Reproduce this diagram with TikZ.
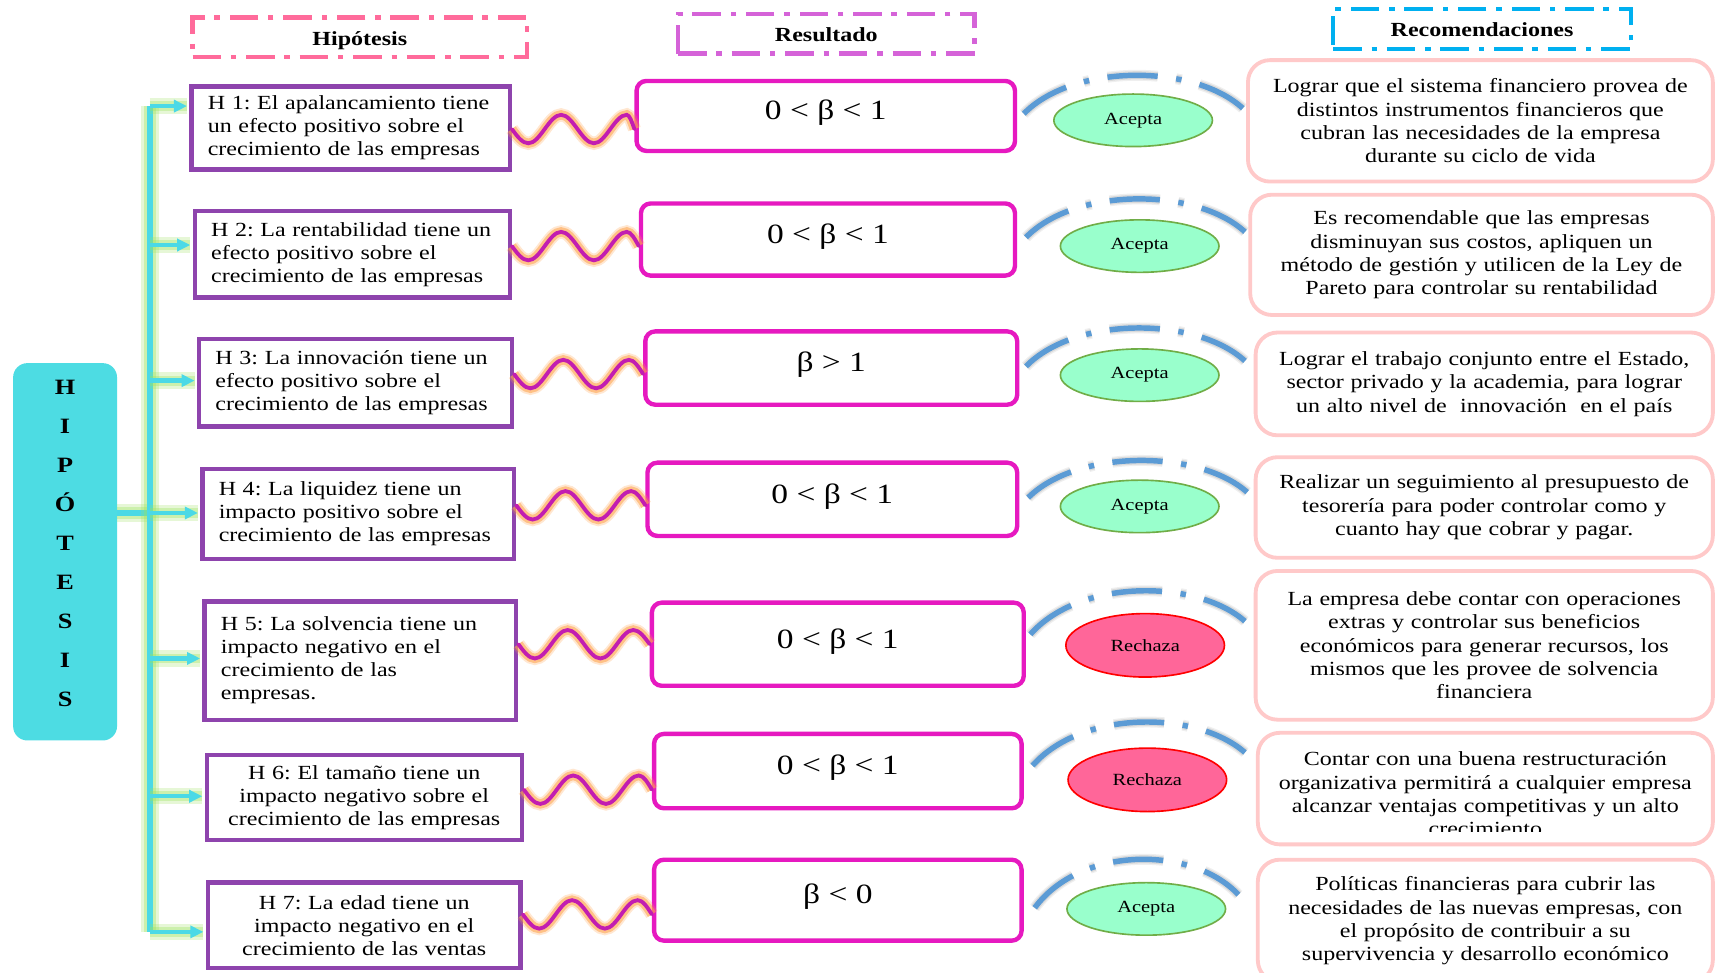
\documentclass[tikz,border=0pt]{standalone}
\usepackage{fontspec}
\setmainfont{Liberation Serif}[FakeStretch=1.2]
\usetikzlibrary{shapes.geometric,arrows.meta,calc}
\frenchspacing

\definecolor{hypPurple}{HTML}{8E44AD}
\definecolor{resMag}{HTML}{E619C0}
\definecolor{recPink}{HTML}{FFC9C9}
\definecolor{waveMag}{HTML}{C21DB1}
\definecolor{waveGlow}{HTML}{FFA24A}
\definecolor{spineCyan}{HTML}{4BD9E6}
\definecolor{spineGlow}{HTML}{9DE35F}
\definecolor{arcBlue}{HTML}{5B9BD5}
\definecolor{acFill}{HTML}{99FFCC}
\definecolor{acLine}{HTML}{70AD47}
\definecolor{reFill}{HTML}{FF6699}
\definecolor{reLine}{HTML}{FF0000}
\definecolor{hdrPink}{HTML}{FF6B9B}
\definecolor{hdrOrchid}{HTML}{D563D8}
\definecolor{hdrCyan}{HTML}{00B0F0}
\definecolor{hipFill}{HTML}{4DDCE3}

\tikzset{
  bodyfont/.style={font=\fontsize{18.3}{21}\selectfont},
  hdr/.style={line width=4pt, dash pattern=on 26pt off 9pt on 5pt off 9pt,
    inner sep=0pt, text height=18.4pt, text depth=4pt,
    font=\bfseries\fontsize{18.3}{21}\selectfont},
  hipbox/.style={fill=hipFill, rounded corners=13pt, minimum width=95pt,
    minimum height=345pt, inner sep=0pt},
  hipletters/.style={align=center, inner sep=0pt,
    font=\bfseries\fontsize{20}{35.7}\selectfont},
  hyp/.style={draw=hypPurple, line width=4pt, fill=white, inner xsep=15pt,
    inner ysep=0pt, align=left, bodyfont},
  hypc/.style={hyp, align=center},
  res/.style={draw=resMag, line width=4pt, rounded corners=9pt, fill=white,
    inner sep=0pt, text height=18pt, text depth=11pt,
    font=\fontsize{25.5}{30}\selectfont},
  rec/.style={draw=recPink, line width=3.5pt, rounded corners=20pt, fill=white,
    align=center, inner sep=0pt, font=\fontsize{18.3}{21.3}\selectfont},
  rectext/.style={align=center, inner sep=0pt, font=\fontsize{18.3}{21.3}\selectfont},
  ell/.style={ellipse, line width=1.5pt, inner sep=0pt, minimum width=145pt,
    font=\fontsize{15.6}{18}\selectfont},
  acepta/.style={ell, fill=acFill, draw=acLine, minimum height=48pt},
  rechaza/.style={ell, fill=reFill, draw=reLine, minimum height=58pt},
  spine/.style={draw=spineCyan, line width=5.5pt,
    preaction={draw=spineGlow, line width=17pt, opacity=0.25},
    preaction={draw=spineGlow, line width=11pt, opacity=0.35}},
  branch/.style={draw=spineCyan, line width=4pt,
    -{Triangle[length=12pt,width=11pt]}, shorten >=2pt,
    preaction={draw=spineGlow, arrows=-, line width=15pt, opacity=0.25},
    preaction={draw=spineGlow, arrows=-, line width=9pt, opacity=0.35}},
  wave/.style={draw=waveMag, line width=3.5pt, line cap=round,
    preaction={draw=waveGlow, line width=12pt, opacity=0.25},
    preaction={draw=waveGlow, line width=8.5pt, opacity=0.55}},
  arcdash/.style={dash pattern=on 46pt off 17pt on 5pt off 17pt},
  arcline/.style={draw=arcBlue, line width=5pt, arcdash,
    preaction={draw=gray, arcdash, line width=10pt, opacity=0.12},
    preaction={draw=gray, arcdash, line width=7.5pt, opacity=0.18}},
}

\begin{document}
\begin{tikzpicture}[x=1pt,y=-1pt]
\clip (0,0) rectangle (1568,889);
\fill[white] (0,0) rectangle (1568,889);

% column headings
\node[hdr, draw=hdrPink, minimum width=306pt, minimum height=36pt] (hh) at (329,34) {Hipótesis};
\node[hdr, draw=hdrOrchid, minimum width=271pt, minimum height=36pt] (hr) at (755.5,31) {Resultado};
\node[hdr, draw=hdrCyan, minimum width=272pt, minimum height=37pt] (hc) at (1355,26.5) {Recomendaciones};

% vertical title box
\node[hipbox] (hip) at (59.5,504.5) {};
\node[hipletters] (hipt) at (59.5,497) {H\\I\\P\\Ó\\T\\E\\S\\I\\S};

% hypotheses
\node[hyp, minimum width=291pt, minimum height=76pt, text width=261pt] (h1) at (320.5,117)
  {H 1: El apalancamiento tiene\\un efecto positivo sobre el\\crecimiento de las empresas};
\node[hyp, minimum width=288pt, minimum height=79pt, text width=258pt] (h2) at (322,232.5)
  {H 2: La rentabilidad tiene un\\efecto positivo sobre el\\crecimiento de las empresas};
\node[hyp, minimum width=286pt, minimum height=80pt, text width=256pt] (h3) at (325,350)
  {H 3: La innovación tiene un\\efecto positivo sobre el\\crecimiento de las empresas};
\node[hyp, minimum width=285pt, minimum height=82pt, text width=255pt] (h4) at (327.5,470)
  {H 4: La liquidez tiene un\\impacto positivo sobre el\\crecimiento de las empresas};
\node[hyp, minimum width=285pt, minimum height=108pt, text width=255pt] (h5) at (329.5,604)
  {H 5: La solvencia tiene un\\impacto negativo en el\\crecimiento de las\\empresas.};
\node[hypc, minimum width=288pt, minimum height=78pt, text width=258pt] (h6) at (333,729)
  {H 6: El tamaño tiene un\\impacto negativo sobre el\\crecimiento de las empresas};
\node[hypc, minimum width=286pt, minimum height=78pt, text width=256pt] (h7) at (333,846)
  {H 7: La edad tiene un\\impacto negativo en el\\crecimiento de las ventas};

% results
\node[res, minimum width=346pt, minimum height=64pt] (r1) at (755,106) {0 < β < 1};
\node[res, minimum width=342pt, minimum height=66pt] (r2) at (757,219) {0 < β < 1};
\node[res, minimum width=340pt, minimum height=67pt] (r3) at (760,336.5) {β > 1};
\node[res, minimum width=338pt, minimum height=67pt] (r4) at (761,456.5) {0 < β < 1};
\node[res, minimum width=340pt, minimum height=76pt] (r5) at (766,589) {0 < β < 1};
\node[res, minimum width=336pt, minimum height=68pt] (r6) at (766,705) {0 < β < 1};
\node[res, minimum width=336pt, minimum height=74pt] (r7) at (766,823) {β < 0};

% decisions
\node[acepta] (e1) at (1036,110) {Acepta};
\node[acepta] (e2) at (1042,225) {Acepta};
\node[acepta] (e3) at (1042,343) {Acepta};
\node[acepta] (e4) at (1042,463) {Acepta};
\node[rechaza] (e5) at (1047,590) {Rechaza};
\node[rechaza] (e6) at (1049,713) {Rechaza};
\node[acepta] (e7) at (1048,831) {Acepta};

% recommendations
\node[rec, minimum width=425pt, minimum height=111pt, text width=415pt] (rc1) at (1353.5,110.5)
  {Lograr que el sistema financiero provea de\\distintos instrumentos financieros que\\cubran las necesidades de la empresa\\durante su ciclo de vida};
\node[rec, minimum width=423pt, minimum height=110pt, text width=413pt] (rc2) at (1354.5,233)
  {Es recomendable que las empresas\\disminuyan sus costos, apliquen un\\método de gestión y utilicen de la Ley de\\Pareto para controlar su rentabilidad};
\node[rec, minimum width=418pt, minimum height=94pt, text width=408pt] (rc3) at (1357,351)
  {Lograr el trabajo conjunto entre el Estado,\\sector privado y la academia, para lograr\\un alto nivel de\ \ innovación\ \ en el país};
\node[rec, minimum width=418pt, minimum height=92pt, text width=408pt] (rc4) at (1357,464)
  {Realizar un seguimiento al presupuesto de\\tesorería para poder controlar como y\\cuanto hay que cobrar y pagar.};
\node[rec, minimum width=418pt, minimum height=136pt, text width=408pt] (rc5) at (1357,590)
  {La empresa debe contar con operaciones\\extras y controlar sus beneficios\\económicos para generar recursos, los\\mismos que les provee de solvencia\\financiera};
\node[rec, minimum width=416pt, minimum height=102pt] (rc6) at (1358,721) {};
\begin{scope}
  \clip (rc6.north west) rectangle (rc6.east |- 0,760);
  \node[rectext, text width=406pt] (rc6t) at ($(rc6.center)+(0,5)$)
    {Contar con una buena restructuración\\organizativa permitirá a cualquier empresa\\alcanzar ventajas competitivas y un alto\\crecimiento};
\end{scope}
\node[rec, minimum width=416pt, minimum height=112pt, text width=406pt] (rc7) at (1358,842)
  {Políticas financieras para cubrir las\\necesidades de las nuevas empresas, con\\el propósito de contribuir a su\\supervivencia y desarrollo económico};

% branching spine
\coordinate (s1) at (137,97);
\coordinate (s2) at (137,224);
\coordinate (s3) at (137,348);
\coordinate (s4) at (137,469);
\coordinate (s5) at (137,602);
\coordinate (s6) at (137,728);
\coordinate (s7) at (137,852);
\draw[spine] (hip.east |- s4) -- (s4);
\draw[spine] (s1) -- (s7);
\draw[branch] (s1) -- (s1 -| h1.west);
\draw[branch] (s2) -- (s2 -| h2.west);
\draw[branch] (s3) -- (s3 -| h3.west);
\draw[branch] (s4) -- (s4 -| h4.west);
\draw[branch] (s5) -- (s5 -| h5.west);
\draw[branch] (s6) -- (s6 -| h6.west);
\draw[branch] (s7) -- (s7 -| h7.west);

% wavy links hypothesis -> result
\draw[wave] (h1.east |- 0,118) sin ++(15,13) cos ++(15,-13) sin ++(15,-13) cos ++(15,13)
  sin ++(15,13) cos ++(15,-13) sin ++(15,-13) cos (r1.west |- 0,118);
\draw[wave] (h2.east |- 0,225) sin ++(15,13) cos ++(15,-13) sin ++(15,-13) cos ++(15,13)
  sin ++(15,13) cos ++(15,-13) sin ++(15,-13) cos (r2.west |- 0,225);
\draw[wave] (h3.east |- 0,342) sin ++(15,13) cos ++(15,-13) sin ++(15,-13) cos ++(15,13)
  sin ++(15,13) cos ++(15,-13) sin ++(15,-13) cos (r3.west |- 0,342);
\draw[wave] (h4.east |- 0,462) sin ++(15,13) cos ++(15,-13) sin ++(15,-13) cos ++(15,13)
  sin ++(15,13) cos ++(15,-13) sin ++(15,-13) cos (r4.west |- 0,462);
\draw[wave] (h5.east |- 0,589) sin ++(15,13) cos ++(15,-13) sin ++(15,-13) cos ++(15,13)
  sin ++(15,13) cos ++(15,-13) sin ++(15,-13) cos (r5.west |- 0,589);
\draw[wave] (h6.east |- 0,722) sin ++(15,13) cos ++(15,-13) sin ++(15,-13) cos ++(15,13)
  sin ++(15,13) cos ++(15,-13) sin ++(15,-13) cos (r6.west |- 0,722);
\draw[wave] (h7.east |- 0,836) sin ++(15,13) cos ++(15,-13) sin ++(15,-13) cos ++(15,13)
  sin ++(15,13) cos ++(15,-13) sin ++(15,-13) cos (r7.west |- 0,836);

% dash-dot arcs result -> recommendation
\draw[arcline] ($(r1.east)+(6,-2)$) .. controls +(45,-46) and +(-45,-41) .. ($(rc1.west)+(-3,-11.5)$);
\draw[arcline] ($(r2.east)+(8,-2)$) .. controls +(45,-46) and +(-45,-41) .. ($(rc2.west)+(-3,-21)$);
\draw[arcline] ($(r3.east)+(6,-1.5)$) .. controls +(45,-46) and +(-45,-41) .. ($(rc3.west)+(-8,-21)$);
\draw[arcline] ($(r4.east)+(8,-1.5)$) .. controls +(45,-44.5) and +(-45,-39.5) .. ($(rc4.west)+(-6,-14)$);
\draw[arcline] ($(r5.east)+(4,-9)$) .. controls +(45,-51) and +(-45,-39) .. ($(rc5.west)+(-8,-22)$);
\draw[arcline] ($(r6.east)+(8,-5)$) .. controls +(45,-51) and +(-45,-39) .. ($(rc6.west)+(-10,-33)$);
\draw[arcline] ($(r7.east)+(10,7)$) .. controls +(42,-57) and +(-42,-45) .. ($(rc7.west)+(-16,-24)$);
\end{tikzpicture}
\end{document}
